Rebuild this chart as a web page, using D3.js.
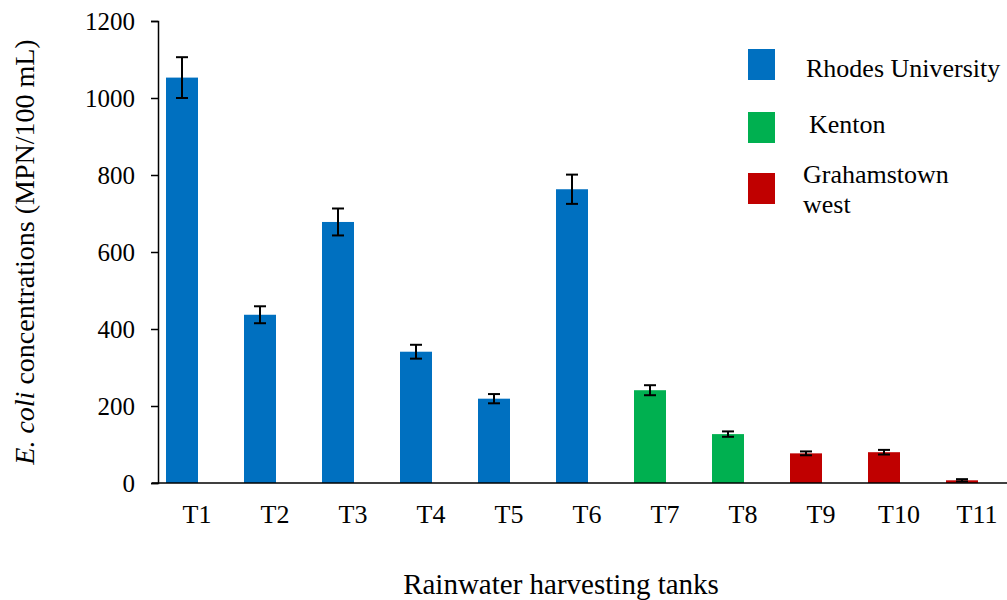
<!DOCTYPE html>
<html>
<head>
<meta charset="utf-8">
<script src="https://cdn.jsdelivr.net/npm/d3@7"></script>
<style>
body { margin: 0; background: #fff; }
svg text { font-family: "Liberation Serif", "Times New Roman", serif; fill: #000; }
</style>
</head>
<body>
<script>
var tanks = ["T1","T2","T3","T4","T5","T6","T7","T8","T9","T10","T11"];
var ecoli = [1053, 437, 678, 341, 219, 763, 241, 127, 77, 80, 7];
var errors = [53, 22, 35, 18, 12, 38, 13, 7, 5, 6, 3];
var sites = ["Rhodes University","Rhodes University","Rhodes University","Rhodes University","Rhodes University","Rhodes University","Kenton","Kenton","Grahamstown west","Grahamstown west","Grahamstown west"];
var siteNames = ["Rhodes University","Kenton","Grahamstown west"];
var siteColors = ["#0070C0","#00B050","#C00000"];
var yTicks = [0, 200, 400, 600, 800, 1000, 1200];

function init(){
	var w = 1007;
	var h = 600;
	var barW = 32;

	var svg = d3.select("body")
		.append("svg")
		.attr("width", w)
		.attr("height", h)
		.attr("font-family", "Liberation Serif");

	// category bands (chart area runs past the right edge of the picture)
	var xScale = d3.scaleBand()
		.domain(tanks)
		.range([158, 1016])
		.padding(0);

	var yScale = d3.scaleLinear()
		.domain([0, 1200])
		.range([483, 21]);

	var color = d3.scaleOrdinal()
		.domain(siteNames)
		.range(siteColors);

	var data = tanks.map(function(t, i){
		return {tank: t, value: ecoli[i], err: errors[i], site: sites[i]};
	});

	// bars sit left of the category centre
	var barX = function(d){ return xScale(d.tank) + xScale.bandwidth() / 2 - 31; };
	var cx = function(d){ return barX(d) + barW / 2; };

	svg.selectAll("rect.bar")
		.data(data)
		.enter()
		.append("rect")
		.attr("class", "bar")
		.attr("x", barX)
		.attr("y", function(d){ return yScale(d.value); })
		.attr("width", barW)
		.attr("height", function(d){ return yScale(0) - yScale(d.value); })
		.attr("fill", function(d){ return color(d.site); });

	// error bars
	var eb = svg.selectAll("g.err")
		.data(data)
		.enter()
		.append("g")
		.attr("class", "err")
		.attr("stroke", "#000")
		.attr("stroke-width", 2);
	eb.append("line")
		.attr("x1", cx).attr("x2", cx)
		.attr("y1", function(d){ return yScale(d.value + d.err); })
		.attr("y2", function(d){ return yScale(d.value - d.err); });
	eb.append("line")
		.attr("x1", function(d){ return cx(d) - 6; })
		.attr("x2", function(d){ return cx(d) + 6; })
		.attr("y1", function(d){ return yScale(d.value + d.err); })
		.attr("y2", function(d){ return yScale(d.value + d.err); });
	eb.append("line")
		.attr("x1", function(d){ return cx(d) - 6; })
		.attr("x2", function(d){ return cx(d) + 6; })
		.attr("y1", function(d){ return yScale(d.value - d.err); })
		.attr("y2", function(d){ return yScale(d.value - d.err); });

	// y axis
	var yAxis = d3.axisLeft(yScale)
		.tickValues(yTicks)
		.tickFormat(d3.format("d"))
		.tickSizeOuter(0)
		.tickSize(7)
		.tickPadding(16);
	var gy = svg.append("g")
		.attr("transform", "translate(158,0)")
		.attr("font-family", null)
		.call(yAxis);
	gy.attr("font-family", "Liberation Serif").attr("font-size", 25);
	gy.select(".domain").attr("stroke", "#000").attr("stroke-width", 1.5);
	gy.selectAll(".tick line").attr("stroke", "#000").attr("stroke-width", 1.5);
	gy.selectAll("text")
		.style("font-family", "'Liberation Serif'")
		.style("font-size", "25px");

	// x axis
	var xAxis = d3.axisBottom(xScale)
		.tickSize(0)
		.tickSizeOuter(0);
	var gx = svg.append("g")
		.attr("transform", "translate(0,483)")
		.call(xAxis);
	gx.attr("font-family", "Liberation Serif").attr("font-size", 26);
	gx.select(".domain")
		.attr("d", "M152,0H1007")
		.attr("stroke", "#000")
		.attr("stroke-width", 1.5);
	gx.selectAll("text")
		.attr("y", 40)
		.attr("dy", 0)
		.style("font-family", "'Liberation Serif'")
		.style("font-size", "26px");

	// axis titles
	svg.append("text")
		.attr("x", 561)
		.attr("y", 594)
		.attr("text-anchor", "middle")
		.style("font-size", "29px")
		.text("Rainwater harvesting tanks");

	var yt = svg.append("text")
		.attr("transform", "translate(34,252) rotate(-90)")
		.attr("text-anchor", "middle")
		.style("font-size", "28px");
	yt.append("tspan").style("font-style", "italic").text("E. coli");
	yt.append("tspan").text(" concentrations (MPN/100 mL)");

	// legend
	var legendY = [49, 112, 173];
	svg.selectAll("rect.legend")
		.data(siteNames)
		.enter()
		.append("rect")
		.attr("class", "legend")
		.attr("x", 748)
		.attr("y", function(d, i){ return legendY[i]; })
		.attr("width", 27)
		.attr("height", 31)
		.attr("fill", function(d){ return color(d); });

	svg.append("text").attr("x", 806).attr("y", 77)
		.style("font-size", "26px").text("Rhodes University");
	svg.append("text").attr("x", 809).attr("y", 133)
		.style("font-size", "26px").text("Kenton");
	var gw = svg.append("text").attr("x", 803).attr("y", 183)
		.style("font-size", "26px");
	gw.append("tspan").attr("x", 803).text("Grahamstown");
	gw.append("tspan").attr("x", 803).attr("dy", 30).text("west");
}

window.onload = init;
</script>
</body>
</html>
